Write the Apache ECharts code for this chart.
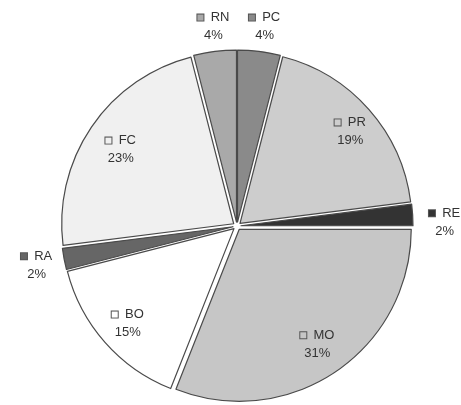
<!DOCTYPE html>
<html><head><meta charset="utf-8">
<script src="https://cdn.jsdelivr.net/npm/echarts@6/dist/echarts.min.js"></script>
<style>html,body{margin:0;padding:0;background:#fff}#c{width:461px;height:405px}</style>
</head><body><div id="c"></div>
<script>
const categories = ['PC','PR','RE','MO','BO','RA','FC','RN'];
const values = [4,19,2,31,15,2,23,4];
const colors = ['#8a8a8a','#cdcdcd','#333333','#c6c6c6','#ffffff','#666666','#f0f0f0','#a9a9a9'];
const outsideLabels = ['PC','RE','RA','RN'];
const labelOffsets = {PC:[2,3],RN:[2,3],RE:[4,9],RA:[0,1],PR:[6,0],FC:[2,4],BO:[-2,3]};

const C = [237, 226], R = 172;
function richFor(i){
  return {sq:{width:6,height:6,backgroundColor:colors[i],borderColor:'#555',borderWidth:1},
          t:{fontFamily:'Liberation Sans',fontSize:13,color:'#333',lineHeight:18}};
}
const baseData = categories.map((n,i)=>({name:n,value:values[i],selected:true,
  itemStyle:{color:colors[i]}}));
function labelData(outside){
  return categories.map((n,i)=>{
    const show = outsideLabels.includes(n) === outside;
    return {name:n,value:values[i],itemStyle:{color:'rgba(0,0,0,0)'},
      label:{show, rich: richFor(i), offset: labelOffsets[n] || [0,0]}};
  });
}
const labelCfg = {position:'inside',rotate:0,formatter:'{sq| }{t|  {b}}\n{t|{c}%}',fontFamily:'Liberation Sans',fontSize:13,color:'#333',lineHeight:18};
const chart = echarts.init(document.getElementById('c'));
chart.setOption({
  animation:false,
  series:[
    {type:'pie',z:1,center:C,radius:[0,R],startAngle:90,clockwise:true,selectedMode:'multiple',selectedOffset:4,
     silent:true,label:{show:false},labelLine:{show:false},
     itemStyle:{borderColor:'#4a4a4a',borderWidth:1.2},
     data:baseData},
    {type:'pie',z:5,center:C,radius:[105,175],startAngle:90,silent:true,avoidLabelOverlap:false,
     label:labelCfg,labelLine:{show:false},data:labelData(false)},
    {type:'pie',z:5,center:C,radius:[182,220],startAngle:90,silent:true,avoidLabelOverlap:false,
     label:labelCfg,labelLine:{show:false},data:labelData(true)}
  ]
});
</script></body></html>
